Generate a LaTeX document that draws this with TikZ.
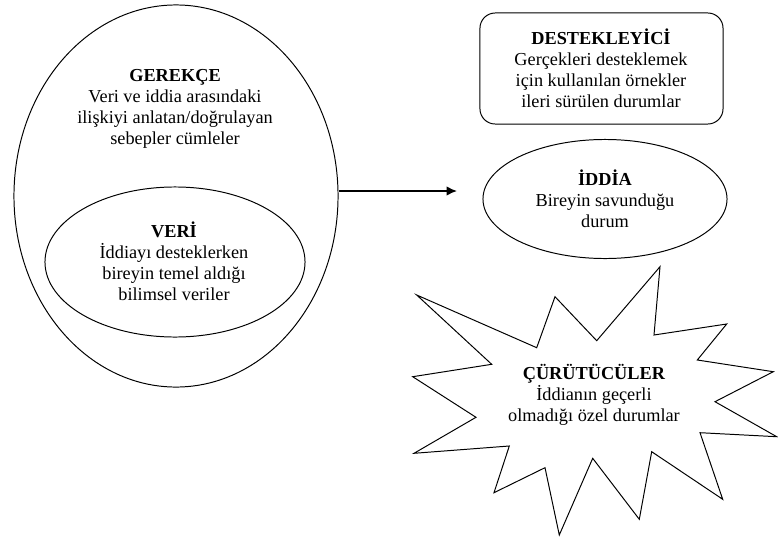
\documentclass[tikz,border=0pt]{standalone}
\usepackage{fontspec}
\setmainfont{Liberation Serif}
\newfontfamily\tezfont{Liberation Serif}
\usetikzlibrary{shapes.geometric,arrows.meta}

\tikzset{
  cizgi/.style={draw, line width=0.7pt},
  kabarcik/.style={cizgi, ellipse, inner sep=0pt},
  kutu/.style={cizgi, rectangle, rounded corners=0.38cm, inner sep=0pt},
  yazi/.style={align=center, font=\tezfont\fontsize{13}{15}\selectfont},
  ok/.style={line width=1.2pt, -{Latex[length=2.6mm,width=2.4mm]}},
}

\begin{document}
\begin{tikzpicture}[x=0.025cm, y=-0.025cm]
\useasboundingbox (0,0) rectangle (778,540);
% gerekce ve icindeki veri
\node[kabarcik, minimum width=8.1cm, minimum height=9.55cm] (gerekce) at (176,196) {};
\node[kabarcik, minimum width=6.5cm, minimum height=3.75cm] (veri) at (175,262) {};
\node[yazi] (gerekceyazi) at (175,109) {\textbf{GEREKÇE}\\Veri ve iddia arasındaki\\ilişkiyi anlatan/doğrulayan\\sebepler cümleler};
\node[yazi] (veriyazi) at (174,261) {\textbf{VERİ}\\İddiayı desteklerken\\bireyin temel aldığı\\bilimsel veriler};
% sag taraf
\node[kutu, minimum width=6.075cm, minimum height=2.775cm] (destek) at (601.5,68.5) {};
\node[yazi] (destekyazi) at (601,68) {\textbf{DESTEKLEYİCİ}\\Gerçekleri desteklemek\\için kullanılan örnekler\\ileri sürülen durumlar};
\node[kabarcik, minimum width=6.1cm, minimum height=2.975cm] (iddia) at (605,199) {};
\node[yazi] (iddiayazi) at (605,199) {\textbf{İDDİA}\\Bireyin savunduğu\\durum};
% curutuculer
\draw[cizgi, line join=miter] (416.7,295) -- (536.7,347.7) -- (555,296.7) -- (596.7,340.7)
  -- (660,266.7) -- (654,335) -- (726.7,324) -- (697.3,360) -- (773.3,371.7) -- (715,401.7)
  -- (776.7,436.7) -- (700,432.7) -- (722.7,499.3) -- (651.7,451.7) -- (639.3,519.3)
  -- (592.7,458.3) -- (559.3,535) -- (545,467.7) -- (494,492.7) -- (509.3,446)
  -- (414,453.3) -- (476,417.3) -- (412.7,376.7) -- (491.7,364.3) -- cycle;
\node[yazi] (curutucu) at (594,395) {\textbf{ÇÜRÜTÜCÜLER}\\İddianın geçerli\\olmadığı özel durumlar};
% ok
\coordinate (okucu) at (457,191);
\draw[ok] (gerekce.east |- okucu) -- (okucu);
\end{tikzpicture}
\end{document}
